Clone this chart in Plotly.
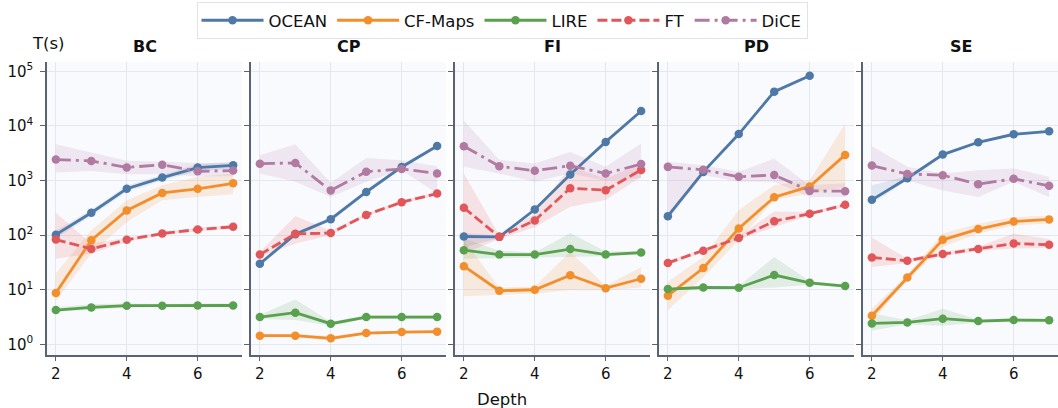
import plotly.graph_objects as go

DATASETS = ["BC", "CP", "FI", "PD", "SE"]
DEPTHS = [2, 3, 4, 5, 6, 7]
METHODS = ["OCEAN", "CF-Maps", "LIRE", "FT", "DiCE"]
COLORS = ["#4e79a7", "#f28e2b", "#59a14f", "#e15759", "#b07aa1"]
BAND_RGB = ["78,121,167", "242,142,43", "89,161,79", "225,87,89", "176,122,161"]
DASHES = ["solid", "solid", "solid", "10px,4px", "15px,5px,3px,5px"]

Y_TICKS = [1, 10, 100, 1000, 10000, 100000]
Y_TICK_TEXT = ["10<sup>0</sup>", "10<sup>1</sup>", "10<sup>2</sup>", "10<sup>3</sup>",
               "10<sup>4</sup>", "10<sup>5</sup>"]
X_TICKS = [2, 4, 6]

# mean runtime (s), per method, per dataset
OCEAN_MEAN = {
    "BC": [102, 257, 710, 1135, 1730, 1900],
    "CP": [29.9, 104, 196, 617, 1774, 4290],
    "FI": [94.5, 93, 295, 1290, 5100, 18800],
    "PD": [223, 1440, 7100, 42500, 83000, None],
    "SE": [443, 1100, 2990, 5020, 7040, 7970],
}
OCEAN_LO = {
    "BC": [88, 225, 630, 1000, 1500, 1650],
    "CP": [27, 95, 180, 570, 1630, 4000],
    "FI": [60, 88, 275, 1200, 4800, 17500],
    "PD": [200, 1330, 6600, 39500, 77000, None],
    "SE": [380, 1000, 2800, 4750, 6650, 7500],
}
OCEAN_HI = {
    "BC": [120, 290, 800, 1280, 2000, 2200],
    "CP": [33, 114, 214, 670, 1930, 4600],
    "FI": [110, 99, 315, 1380, 5400, 20000],
    "PD": [245, 1560, 7600, 45500, 89000, None],
    "SE": [820, 1200, 3200, 5300, 7450, 8500],
}

CF_MEAN = {
    "BC": [8.7, 81, 283, 594, 705, 890],
    "CP": [1.44, 1.44, 1.29, 1.61, 1.68, 1.71],
    "FI": [27, 9.6, 10, 18.5, 10.7, 15.9],
    "PD": [7.8, 25, 132, 496, 780, 2950],
    "SE": [3.34, 16.8, 82, 129, 178, 194],
}
CF_LO = {
    "BC": [6.2, 46, 174, 436, 500, 560],
    "CP": [1.35, 1.35, 1.18, 1.52, 1.58, 1.6],
    "FI": [7.6, 8, 8.5, 9.8, 9.8, 11],
    "PD": [4.2, 17, 81, 440, 580, 760],
    "SE": [2.6, 15, 61, 107, 150, 165],
}
CF_HI = {
    "BC": [20, 123, 436, 820, 1170, 1350],
    "CP": [1.54, 1.54, 1.42, 1.72, 1.78, 1.82],
    "FI": [81, 11, 11.5, 50, 11.8, 26],
    "PD": [14, 40, 290, 820, 1000, 11000],
    "SE": [4.5, 19, 107, 162, 215, 230],
}

LIRE_MEAN = {
    "BC": [4.25, 4.75, 5.1, 5.1, 5.15, 5.15],
    "CP": [3.16, 3.8, 2.39, 3.16, 3.16, 3.16],
    "FI": [53, 44, 44, 55.5, 44, 48],
    "PD": [10.3, 11, 10.9, 18.6, 13.4, 11.7],
    "SE": [2.42, 2.52, 2.95, 2.67, 2.79, 2.75],
}
LIRE_LO = {
    "BC": [3.9, 4.3, 4.7, 4.8, 4.8, 4.8],
    "CP": [2.9, 2.8, 2.2, 2.95, 2.95, 2.95],
    "FI": [37, 38, 40, 40, 41, 44],
    "PD": [9.6, 10.3, 10.2, 11, 12.3, 10.9],
    "SE": [1.8, 2.3, 2.2, 2.5, 2.6, 2.55],
}
LIRE_HI = {
    "BC": [4.8, 5.4, 5.6, 5.5, 5.6, 5.6],
    "CP": [3.5, 6.6, 2.6, 3.4, 3.4, 3.4],
    "FI": [87, 52, 48, 110, 50, 52],
    "PD": [11, 11.8, 11.7, 40, 14.5, 12.5],
    "SE": [3.7, 2.75, 4.5, 2.85, 3.0, 2.95],
}

FT_MEAN = {
    "BC": [83, 56, 82, 107, 127, 142],
    "CP": [44, 106, 109, 235, 401, 577],
    "FI": [317, 93, 186, 724, 665, 1567],
    "PD": [31, 52, 89, 180, 246, 359],
    "SE": [39, 34, 45, 55.5, 70.3, 66.6],
}
FT_LO = {
    "BC": [37, 46, 76, 100, 118, 132],
    "CP": [40, 70, 100, 220, 375, 540],
    "FI": [46, 85, 140, 330, 440, 1170],
    "PD": [28, 48, 82, 140, 228, 335],
    "SE": [26, 31, 41, 51, 57, 58],
}
FT_HI = {
    "BC": [257, 70, 90, 116, 137, 154],
    "CP": [49, 224, 120, 252, 430, 615],
    "FI": [1350, 100, 250, 1780, 1090, 2050],
    "PD": [34, 56, 96, 270, 265, 385],
    "SE": [91, 37, 49, 61, 107, 85],
}

DICE_MEAN = {
    "BC": [2420, 2290, 1740, 1940, 1480, 1520],
    "CP": [2040, 2100, 656, 1450, 1630, 1350],
    "FI": [4250, 1830, 1510, 1870, 1350, 2000],
    "PD": [1780, 1570, 1170, 1265, 647, 638],
    "SE": [1880, 1320, 1250, 855, 1075, 800],
}
DICE_LO = {
    "BC": [1400, 1500, 1300, 1300, 1200, 1200],
    "CP": [1350, 950, 500, 950, 1550, 580],
    "FI": [1780, 1350, 950, 1350, 1000, 1090],
    "PD": [190, 1260, 950, 950, 500, 500],
    "SE": [950, 1000, 660, 500, 950, 500],
}
DICE_HI = {
    "BC": [4600, 3300, 2300, 2200, 2100, 2100],
    "CP": [2900, 4600, 910, 2600, 2350, 1820],
    "FI": [12600, 2400, 2050, 3330, 1780, 4750],
    "PD": [2200, 1900, 1450, 2500, 820, 890],
    "SE": [4250, 1780, 1350, 1550, 1660, 1170],
}

MEANS = [OCEAN_MEAN, CF_MEAN, LIRE_MEAN, FT_MEAN, DICE_MEAN]
LOWS = [OCEAN_LO, CF_LO, LIRE_LO, FT_LO, DICE_LO]
HIGHS = [OCEAN_HI, CF_HI, LIRE_HI, FT_HI, DICE_HI]

# ---- layout geometry (pixels) ----
W, H = 1058, 408
ML, MR, MT, MB = 47, 0, 62, 53
PW = W - ML - MR
PH = H - MT - MB
PANEL_W, GAP = 195, 9
FONT = "DejaVu Sans, Verdana, sans-serif"
SPINE = "#5b6274"
GRID = "#e4e7ef"
BG = "#f9fafe"

def px_x(p):
    return (p - ML) / PW

def px_y(p):
    return (H - MB - p) / PH

fig = go.Figure()

for k, ds in enumerate(DATASETS):
    xa = "x" if k == 0 else f"x{k+1}"
    ya = "y" if k == 0 else f"y{k+1}"
    # bands
    for m in range(len(METHODS)):
        fig.add_trace(go.Scatter(x=DEPTHS, y=HIGHS[m][ds], mode="lines",
                                 line=dict(width=0), hoverinfo="skip",
                                 showlegend=False, xaxis=xa, yaxis=ya))
        fig.add_trace(go.Scatter(x=DEPTHS, y=LOWS[m][ds], mode="lines",
                                 line=dict(width=0), fill="tonexty",
                                 fillcolor=f"rgba({BAND_RGB[m]},0.15)",
                                 hoverinfo="skip", showlegend=False,
                                 xaxis=xa, yaxis=ya))
    # lines
    for m, name in enumerate(METHODS):
        fig.add_trace(go.Scatter(x=DEPTHS, y=MEANS[m][ds], mode="lines+markers",
                                 name=name, legendgroup=name, showlegend=(k == 0),
                                 line=dict(color=COLORS[m], width=2.8, dash=DASHES[m]),
                                 marker=dict(color=COLORS[m], size=8.5),
                                 xaxis=xa, yaxis=ya))

layout = dict(
    width=W, height=H,
    margin=dict(l=ML, r=MR, t=MT, b=MB),
    paper_bgcolor="white", plot_bgcolor=BG,
    font=dict(family=FONT, size=15, color="#111111"),
    showlegend=True,
    legend=dict(orientation="h", x=px_x(502), xanchor="center",
                y=px_y(2), yanchor="top",
                bordercolor="#dfe2ea", borderwidth=1, bgcolor="white",
                font=dict(size=16.5), itemwidth=62, tracegroupgap=0),
)

annotations = []
for k, ds in enumerate(DATASETS):
    left = ML + k * (PANEL_W + GAP)
    d0 = px_x(left)
    d1 = min(1.0, px_x(left + PANEL_W))
    xkey = "xaxis" if k == 0 else f"xaxis{k+1}"
    ykey = "yaxis" if k == 0 else f"yaxis{k+1}"
    yref = "y" if k == 0 else f"y{k+1}"
    xref = "x" if k == 0 else f"x{k+1}"
    layout[xkey] = dict(domain=[d0, d1], anchor=yref, range=[1.75, 7.25],
                        tickvals=X_TICKS, showgrid=True, gridcolor=GRID, gridwidth=1,
                        showline=True, linecolor=SPINE, linewidth=1.6,
                        ticks="outside", ticklen=4, tickcolor=SPINE, tickwidth=1.3,
                        zeroline=False, tickfont=dict(size=15))
    layout[ykey] = dict(type="log", range=[-0.195, 5.171], anchor=xref,
                        tickvals=Y_TICKS, ticktext=Y_TICK_TEXT,
                        showticklabels=(k == 0),
                        showgrid=True, gridcolor=GRID, gridwidth=1,
                        showline=True, linecolor=SPINE, linewidth=1.6,
                        ticks="outside", ticklen=5, tickcolor=SPINE, tickwidth=1.3,
                        zeroline=False, tickfont=dict(size=15), ticklabelstandoff=4)
    annotations.append(dict(text=f"<b>{ds}</b>", xref="paper", yref="paper",
                            x=px_x(left + PANEL_W / 2), y=px_y(47),
                            xanchor="center", yanchor="middle", showarrow=False,
                            font=dict(size=16, family=FONT, color="#111111")))

annotations.append(dict(text="T(s)", xref="paper", yref="paper", x=px_x(48), y=px_y(44),
                        xanchor="center", yanchor="middle", showarrow=False,
                        font=dict(size=16.5, family=FONT, color="#111111")))
annotations.append(dict(text="Depth", xref="paper", yref="paper", x=px_x(502), y=px_y(399),
                        xanchor="center", yanchor="middle", showarrow=False,
                        font=dict(size=16.5, family=FONT, color="#111111")))
layout["annotations"] = annotations

fig.update_layout(**layout)
fig.write_html("out.html")
